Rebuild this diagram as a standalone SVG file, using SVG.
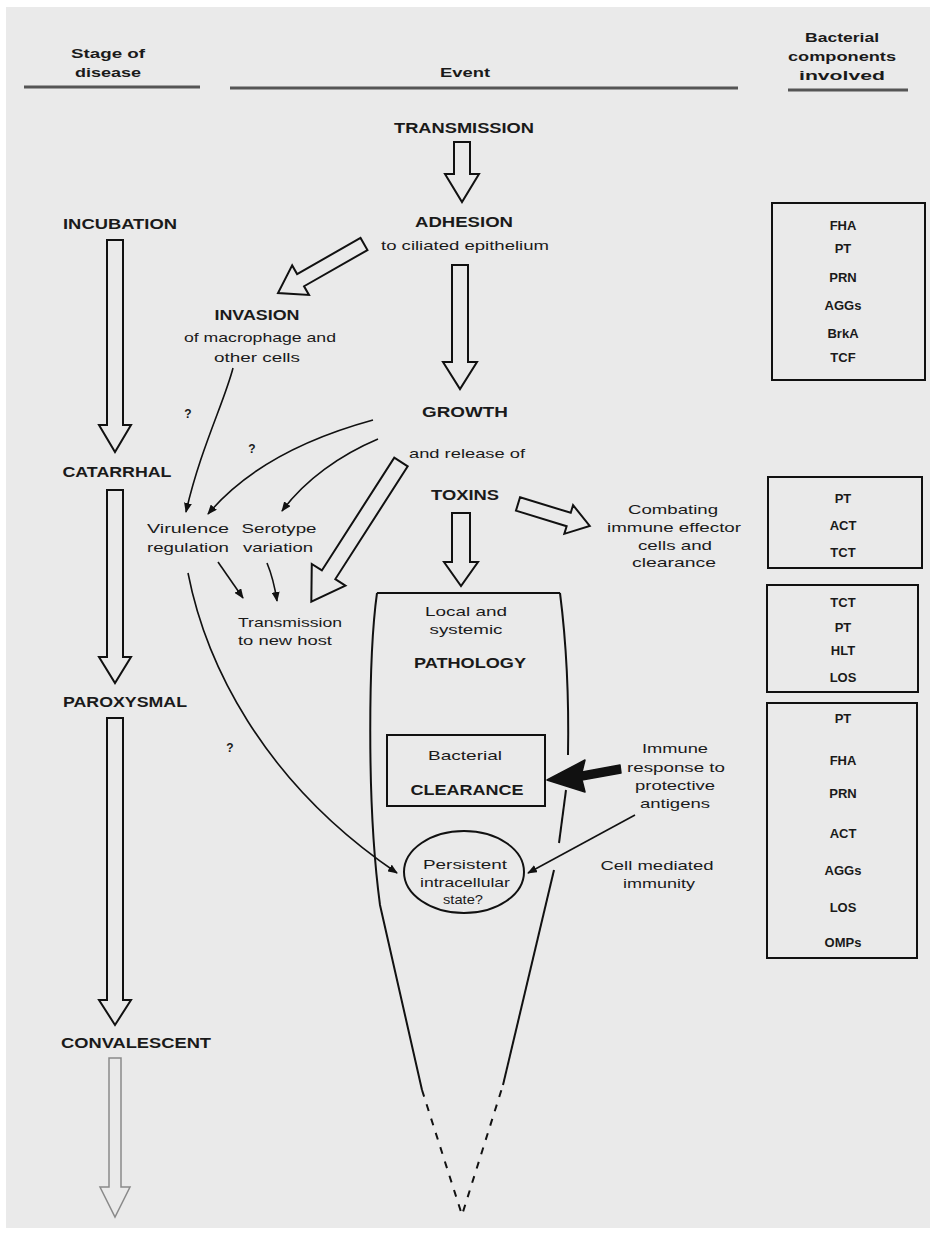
<svg xmlns="http://www.w3.org/2000/svg" width="936" height="1233" viewBox="0 0 936 1233">
<defs>
<style>
text{font-family:"Liberation Sans",Arial,sans-serif;fill:#1a1a1a;text-anchor:middle}
.cap{font-size:14px;font-weight:bold}
.lc{font-size:13px}
.q{font-size:12px;font-weight:bold}
.hd{font-size:13px;font-weight:bold}
.bx{font-size:13px;font-weight:bold}
.hollow{fill:none;stroke:#111;stroke-width:2;stroke-linejoin:miter}
.faint{fill:none;stroke:#8a8a8a;stroke-width:1.5}
.thin{fill:none;stroke:#111;stroke-width:1.6}
.frame{fill:none;stroke:#111;stroke-width:2}
.rule{stroke:#555;stroke-width:3}
</style>
<marker id="ah" viewBox="0 0 10 8" refX="9" refY="4" markerWidth="10" markerHeight="8" markerUnits="userSpaceOnUse" orient="auto"><path d="M0,0 L10,4 L0,8 z" fill="#111"/></marker>
</defs>
<rect x="0" y="0" width="936" height="1233" fill="#ffffff"/>
<rect x="6" y="7" width="924" height="1221" fill="#eaeaea"/>

<g id="headers">
<text class="hd" x="108" y="58" textLength="74" lengthAdjust="spacingAndGlyphs">Stage of</text>
<text class="hd" x="108" y="77" textLength="66" lengthAdjust="spacingAndGlyphs">disease</text>
<line class="rule" x1="24" y1="87" x2="200" y2="87"/>
<text class="hd" x="465" y="77" textLength="50" lengthAdjust="spacingAndGlyphs">Event</text>
<line class="rule" x1="230" y1="88" x2="738" y2="88"/>
<text class="hd" x="842" y="42" textLength="74" lengthAdjust="spacingAndGlyphs">Bacterial</text>
<text class="hd" x="842" y="61" textLength="108" lengthAdjust="spacingAndGlyphs">components</text>
<text class="hd" x="842" y="80" textLength="86" lengthAdjust="spacingAndGlyphs">involved</text>
<line class="rule" x1="788" y1="90" x2="908" y2="90"/>
</g>

<g id="stage-incubation"><text class="cap" x="120" y="229" textLength="114" lengthAdjust="spacingAndGlyphs">INCUBATION</text></g>
<g id="stage-catarrhal"><text class="cap" x="117" y="477" textLength="109" lengthAdjust="spacingAndGlyphs">CATARRHAL</text></g>
<g id="stage-paroxysmal"><text class="cap" x="125" y="707" textLength="124" lengthAdjust="spacingAndGlyphs">PAROXYSMAL</text></g>
<g id="stage-convalescent"><text class="cap" x="136" y="1048" textLength="150" lengthAdjust="spacingAndGlyphs">CONVALESCENT</text></g>

<g id="transmission"><text class="cap" x="464" y="133" textLength="140" lengthAdjust="spacingAndGlyphs">TRANSMISSION</text></g>
<g id="adhesion">
<text class="cap" x="464" y="227" textLength="98" lengthAdjust="spacingAndGlyphs">ADHESION</text>
<text class="lc" x="465" y="250" textLength="168" lengthAdjust="spacingAndGlyphs">to ciliated epithelium</text>
</g>
<g id="invasion">
<text class="cap" x="257" y="320" textLength="85" lengthAdjust="spacingAndGlyphs">INVASION</text>
<text class="lc" x="260" y="342" textLength="152" lengthAdjust="spacingAndGlyphs">of macrophage and</text>
<text class="lc" x="257" y="362" textLength="86" lengthAdjust="spacingAndGlyphs">other cells</text>
</g>
<g id="growth">
<text class="cap" x="465" y="417" textLength="86" lengthAdjust="spacingAndGlyphs">GROWTH</text>
<text class="lc" x="467" y="458" textLength="116" lengthAdjust="spacingAndGlyphs">and release of</text>
</g>
<g id="toxins"><text class="cap" x="465" y="500" textLength="68" lengthAdjust="spacingAndGlyphs">TOXINS</text></g>
<g id="combating">
<text class="lc" x="673" y="514" textLength="90" lengthAdjust="spacingAndGlyphs">Combating</text>
<text class="lc" x="674" y="532" textLength="134" lengthAdjust="spacingAndGlyphs">immune effector</text>
<text class="lc" x="675" y="550" textLength="74" lengthAdjust="spacingAndGlyphs">cells and</text>
<text class="lc" x="674" y="567" textLength="84" lengthAdjust="spacingAndGlyphs">clearance</text>
</g>
<g id="virulence">
<text class="lc" x="188" y="533" textLength="82" lengthAdjust="spacingAndGlyphs">Virulence</text>
<text class="lc" x="188" y="552" textLength="82" lengthAdjust="spacingAndGlyphs">regulation</text>
</g>
<g id="serotype">
<text class="lc" x="279" y="533" textLength="75" lengthAdjust="spacingAndGlyphs">Serotype</text>
<text class="lc" x="278" y="552" textLength="70" lengthAdjust="spacingAndGlyphs">variation</text>
</g>
<g id="new-host">
<text class="lc" x="290" y="627" textLength="104" lengthAdjust="spacingAndGlyphs">Transmission</text>
<text class="lc" x="285" y="645" textLength="94" lengthAdjust="spacingAndGlyphs">to new host</text>
</g>
<g id="pathology">
<path class="frame" d="M377,593 L560,593"/>
<path class="frame" d="M377,593 C369,650 366,800 380,905 L422,1090"/>
<path class="frame" d="M560,593 C566,640 569,700 568,755"/>
<path class="frame" d="M566,790 L559,843"/>
<path class="frame" d="M554,870 L503,1085"/>
<path class="frame" d="M422,1090 L462,1215 L503,1085" stroke-dasharray="7 8"/>
<text class="lc" x="466" y="616" textLength="82" lengthAdjust="spacingAndGlyphs">Local and</text>
<text class="lc" x="466" y="634" textLength="73" lengthAdjust="spacingAndGlyphs">systemic</text>
<text class="cap" x="470" y="668" textLength="112" lengthAdjust="spacingAndGlyphs">PATHOLOGY</text>
</g>
<g id="clearance">
<rect class="frame" x="387" y="735" width="158" height="71"/>
<text class="lc" x="465" y="760" textLength="74" lengthAdjust="spacingAndGlyphs">Bacterial</text>
<text class="cap" x="467" y="795" textLength="113" lengthAdjust="spacingAndGlyphs">CLEARANCE</text>
</g>
<g id="persistent">
<ellipse class="frame" cx="464" cy="872" rx="60" ry="41"/>
<text class="lc" x="465" y="869" textLength="84" lengthAdjust="spacingAndGlyphs">Persistent</text>
<text class="lc" x="465" y="887" textLength="90" lengthAdjust="spacingAndGlyphs">intracellular</text>
<text class="lc" x="463" y="904" textLength="40" lengthAdjust="spacingAndGlyphs">state?</text>
</g>
<g id="immune-response">
<text class="lc" x="675" y="753" textLength="66" lengthAdjust="spacingAndGlyphs">Immune</text>
<text class="lc" x="676" y="772" textLength="98" lengthAdjust="spacingAndGlyphs">response to</text>
<text class="lc" x="675" y="790" textLength="80" lengthAdjust="spacingAndGlyphs">protective</text>
<text class="lc" x="675" y="808" textLength="70" lengthAdjust="spacingAndGlyphs">antigens</text>
</g>
<g id="cell-mediated">
<text class="lc" x="657" y="870" textLength="113" lengthAdjust="spacingAndGlyphs">Cell mediated</text>
<text class="lc" x="659" y="888" textLength="72" lengthAdjust="spacingAndGlyphs">immunity</text>
</g>
<g id="q-marks">
<text class="q" x="188" y="418">?</text>
<text class="q" x="252" y="453">?</text>
<text class="q" x="230" y="752">?</text>
</g>

<g id="box-adhesion">
<rect class="frame" x="772" y="203" width="153" height="177"/>
<text class="bx" x="843" y="230">FHA</text>
<text class="bx" x="843" y="253">PT</text>
<text class="bx" x="843" y="282">PRN</text>
<text class="bx" x="843" y="310">AGGs</text>
<text class="bx" x="843" y="338">BrkA</text>
<text class="bx" x="843" y="362">TCF</text>
</g>
<g id="box-toxins">
<rect class="frame" x="768" y="477" width="154" height="91"/>
<text class="bx" x="843" y="503">PT</text>
<text class="bx" x="843" y="530">ACT</text>
<text class="bx" x="843" y="557">TCT</text>
</g>
<g id="box-pathology">
<rect class="frame" x="767" y="585" width="151" height="107"/>
<text class="bx" x="843" y="607">TCT</text>
<text class="bx" x="843" y="632">PT</text>
<text class="bx" x="843" y="655">HLT</text>
<text class="bx" x="843" y="682">LOS</text>
</g>
<g id="box-immunity">
<rect class="frame" x="767" y="703" width="150" height="255"/>
<text class="bx" x="843" y="723">PT</text>
<text class="bx" x="843" y="765">FHA</text>
<text class="bx" x="843" y="798">PRN</text>
<text class="bx" x="843" y="838">ACT</text>
<text class="bx" x="843" y="875">AGGs</text>
<text class="bx" x="843" y="912">LOS</text>
<text class="bx" x="843" y="947">OMPs</text>
</g>

<g id="connectors">
<polygon class="hollow" points="107,240 123,240 123,425 131,425 115,452 99,425 107,425"/>
<polygon class="hollow" points="107,490 123,490 123,657 131,657 115,683 99,657 107,657"/>
<polygon class="hollow" points="107,718 123,718 123,1000 131,1000 115,1025 99,1000 107,1000"/>
<polygon class="faint" points="109,1058 121,1058 121,1187 130,1187 115,1217 100,1187 109,1187"/>
<polygon class="hollow" points="454,142 470,142 470,174 479,174 462,202 445,174 454,174"/>
<polygon class="hollow" points="452,265 468,265 468,362 477,362 460,389 443,362 452,362"/>
<polygon class="hollow" points="452,513 470,513 470,562 478,562 461,586 444,562 452,562"/>
<polygon class="hollow" points="0,-7 73,-7 73,-17 99,0 73,17 73,7 0,7" transform="translate(364,244) rotate(150.3)"/>
<polygon class="hollow" points="0,-8 134,-8 134,-20 166,0 134,20 134,8 0,8" transform="translate(401,462) rotate(122.7)"/>
<polygon class="hollow" points="0,-7 53,-7 53,-15 75,0 53,15 53,7 0,7" transform="translate(518,504) rotate(17)"/>
<path class="thin" d="M233,368 C225,400 200,450 186,512" marker-end="url(#ah)"/>
<path class="thin" d="M373,420 C300,440 245,470 208,514" marker-end="url(#ah)"/>
<path class="thin" d="M378,439 C340,455 305,480 282,511" marker-end="url(#ah)"/>
<path class="thin" d="M218,562 L243,598" marker-end="url(#ah)"/>
<path class="thin" d="M267,563 C272,575 275,588 277,601" marker-end="url(#ah)"/>
<path class="thin" d="M188,573 C205,660 260,780 397,873" marker-end="url(#ah)"/>
<path class="thin" d="M635,815 L528,873" marker-end="url(#ah)"/>
<polygon points="547,780 585,760 582,772 620,765 621,773 582,780 585,792" fill="#111" stroke="#111" stroke-width="1.5" stroke-linejoin="round"/>
</g>
</svg>
